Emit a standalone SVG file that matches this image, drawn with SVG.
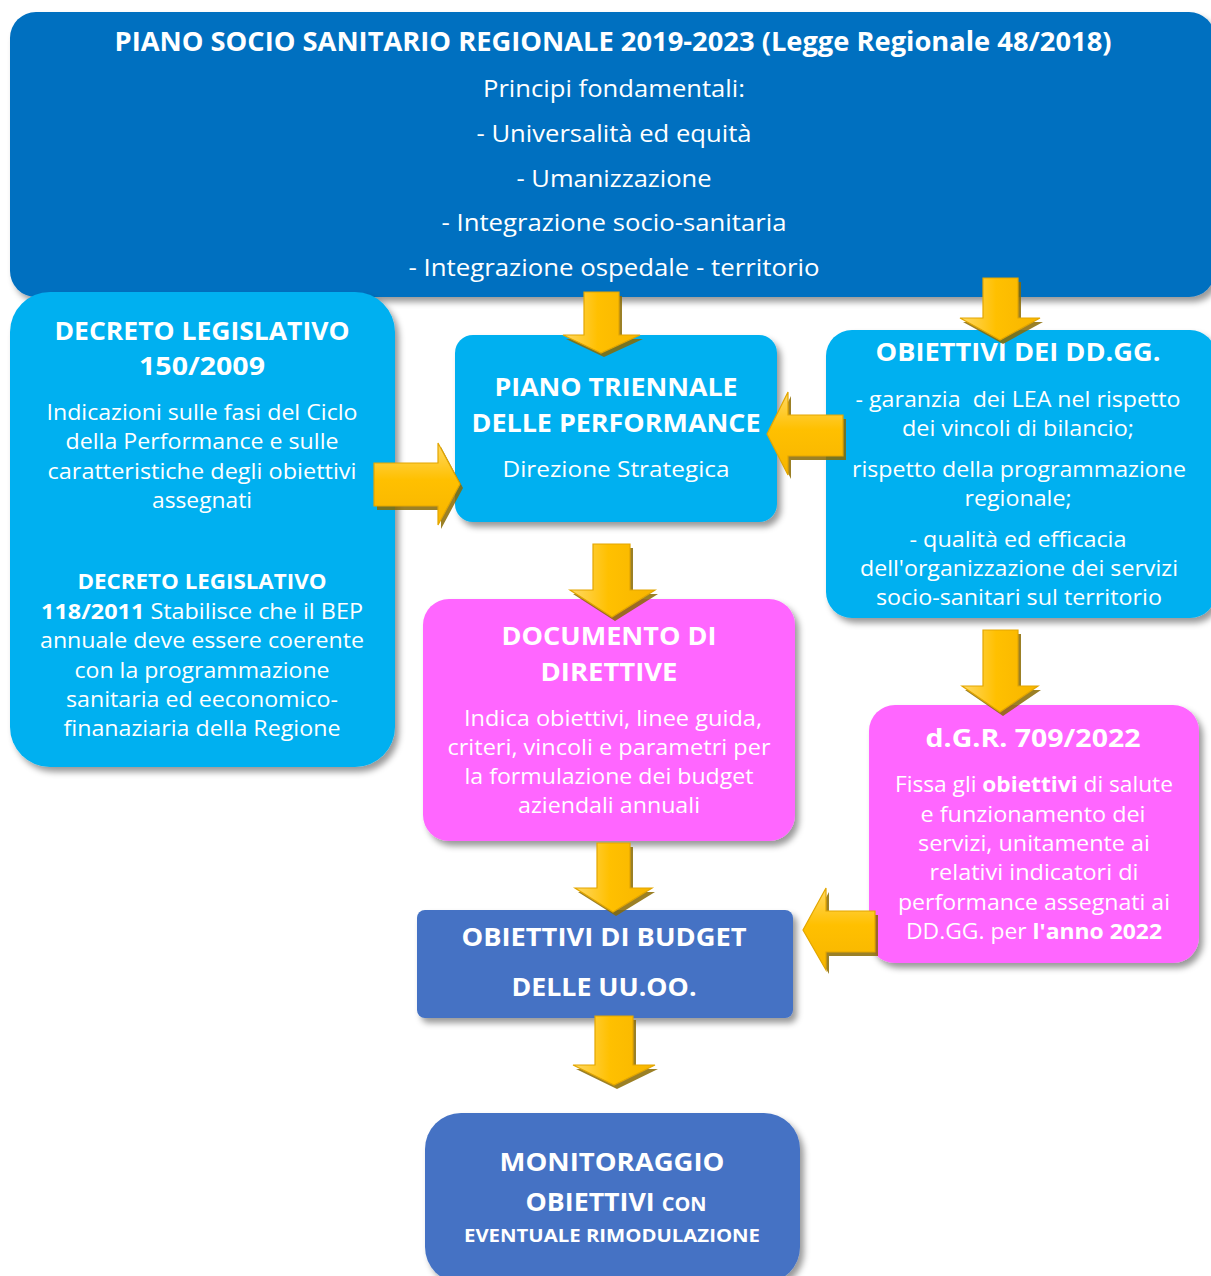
<svg xmlns="http://www.w3.org/2000/svg" xmlns:xlink="http://www.w3.org/1999/xlink" width="1211" height="1276" viewBox="0 0 1211 1276">
<defs>
<style>
text{font-family:"Open Sans","Noto Sans","Liberation Sans",sans-serif;fill:#fff;text-anchor:middle}
.h{font-weight:700;font-size:25.5px}
.b{font-size:22px}
.t{font-size:24.5px}
.bx{filter:url(#sh)}
.arr{stroke:#E3A600;stroke-width:1.2}
.dn{fill:url(#gh)}
.rt{fill:url(#gv)}
.ash{fill:#8A6A00;opacity:.85;stroke:none}
</style>
<filter id="sh" x="-10%" y="-10%" width="125%" height="125%">
<feDropShadow dx="4" dy="5" stdDeviation="3" flood-color="#000" flood-opacity="0.4"/>
</filter>
<linearGradient id="gh" x1="0" y1="0" x2="1" y2="0">
<stop offset="0" stop-color="#FFD966"/>
<stop offset="0.45" stop-color="#FFC000"/>
<stop offset="1" stop-color="#F7B500"/>
</linearGradient>
<linearGradient id="gv" x1="0" y1="0" x2="0" y2="1">
<stop offset="0" stop-color="#FFD966"/>
<stop offset="0.45" stop-color="#FFC000"/>
<stop offset="1" stop-color="#F7B500"/>
</linearGradient>
</defs>
<rect width="1211" height="1276" fill="#fff"/>

<g id="piano-socio-sanitario">
<rect class="bx" x="10" y="12" width="1205" height="285" rx="26" fill="#0070C0"/>
<text x="613" y="51" font-size="26.5" font-weight="700" textLength="997" lengthAdjust="spacingAndGlyphs">PIANO SOCIO SANITARIO REGIONALE 2019-2023 (Legge Regionale 48/2018)</text>
<text class="t" x="614" y="97" textLength="262" lengthAdjust="spacingAndGlyphs">Principi fondamentali:</text>
<text class="t" x="614" y="142" textLength="275" lengthAdjust="spacingAndGlyphs">- Universalità ed equità</text>
<text class="t" x="614" y="187" textLength="195" lengthAdjust="spacingAndGlyphs">- Umanizzazione</text>
<text class="t" x="614" y="231" textLength="345" lengthAdjust="spacingAndGlyphs">- Integrazione socio-sanitaria</text>
<text class="t" x="614" y="276" textLength="411" lengthAdjust="spacingAndGlyphs">- Integrazione ospedale - territorio</text>
</g>

<g id="decreto-legislativo">
<rect class="bx" x="10" y="292" width="385" height="475" rx="40" fill="#00B0F0"/>
<text class="h" x="202" y="340" textLength="295" lengthAdjust="spacingAndGlyphs">DECRETO LEGISLATIVO</text>
<text class="h" x="202" y="375" textLength="126" lengthAdjust="spacingAndGlyphs">150/2009</text>
<text class="b" x="202" y="420" textLength="311" lengthAdjust="spacingAndGlyphs">Indicazioni sulle fasi del Ciclo</text>
<text class="b" x="202" y="449" textLength="273" lengthAdjust="spacingAndGlyphs">della Performance e sulle</text>
<text class="b" x="202" y="479" textLength="309" lengthAdjust="spacingAndGlyphs">caratteristiche degli obiettivi</text>
<text class="b" x="202" y="508" textLength="100" lengthAdjust="spacingAndGlyphs">assegnati</text>
<text x="202" y="589" font-size="22" font-weight="700" textLength="249" lengthAdjust="spacingAndGlyphs">DECRETO LEGISLATIVO</text>
<text class="b" x="202" y="619" textLength="322" lengthAdjust="spacingAndGlyphs"><tspan font-weight="700">118/2011</tspan> Stabilisce che il BEP</text>
<text class="b" x="202" y="648" textLength="324" lengthAdjust="spacingAndGlyphs">annuale deve essere coerente</text>
<text class="b" x="202" y="678" textLength="255" lengthAdjust="spacingAndGlyphs">con la programmazione</text>
<text class="b" x="202" y="707" textLength="272" lengthAdjust="spacingAndGlyphs">sanitaria ed eeconomico-</text>
<text class="b" x="202" y="736" textLength="277" lengthAdjust="spacingAndGlyphs">finanaziaria della Regione</text>
</g>

<g id="piano-triennale">
<rect class="bx" x="455" y="335" width="322" height="187" rx="18" fill="#00B0F0"/>
<text class="h" x="616" y="396" textLength="243" lengthAdjust="spacingAndGlyphs">PIANO TRIENNALE</text>
<text class="h" x="616" y="432" textLength="289" lengthAdjust="spacingAndGlyphs">DELLE PERFORMANCE</text>
<text class="b" x="616" y="477" font-size="23" textLength="227" lengthAdjust="spacingAndGlyphs">Direzione Strategica</text>
</g>

<g id="obiettivi-ddgg">
<rect class="bx" x="826" y="330" width="390" height="288" rx="26" fill="#00B0F0"/>
<text class="h" x="1018" y="361" textLength="285" lengthAdjust="spacingAndGlyphs">OBIETTIVI DEI DD.GG.</text>
<text class="b" x="1018" y="407" textLength="325" lengthAdjust="spacingAndGlyphs" xml:space="preserve">- garanzia  dei LEA nel rispetto</text>
<text class="b" x="1018" y="436" textLength="232" lengthAdjust="spacingAndGlyphs">dei vincoli di bilancio;</text>
<text class="b" x="1019" y="477" textLength="334" lengthAdjust="spacingAndGlyphs">rispetto della programmazione</text>
<text class="b" x="1018" y="506" textLength="107" lengthAdjust="spacingAndGlyphs">regionale;</text>
<text class="b" x="1018" y="547" textLength="217" lengthAdjust="spacingAndGlyphs">- qualità ed efficacia</text>
<text class="b" x="1019" y="576" textLength="318" lengthAdjust="spacingAndGlyphs">dell'organizzazione dei servizi</text>
<text class="b" x="1019" y="605" textLength="286" lengthAdjust="spacingAndGlyphs">socio-sanitari sul territorio</text>
</g>

<g id="documento-direttive">
<rect class="bx" x="423" y="599" width="372" height="242" rx="26" fill="#FF66FF"/>
<text class="h" x="609" y="645" textLength="215" lengthAdjust="spacingAndGlyphs">DOCUMENTO DI</text>
<text class="h" x="609" y="681" textLength="137" lengthAdjust="spacingAndGlyphs">DIRETTIVE</text>
<text class="b" x="613" y="726" textLength="298" lengthAdjust="spacingAndGlyphs">Indica obiettivi, linee guida,</text>
<text class="b" x="609" y="755" textLength="323" lengthAdjust="spacingAndGlyphs">criteri, vincoli e parametri per</text>
<text class="b" x="609" y="784" textLength="289" lengthAdjust="spacingAndGlyphs">la formulazione dei budget</text>
<text class="b" x="609" y="813" textLength="182" lengthAdjust="spacingAndGlyphs">aziendali annuali</text>
</g>

<g id="dgr-709-2022">
<rect class="bx" x="869" y="705" width="330" height="258" rx="26" fill="#FF66FF"/>
<text class="h" x="1033" y="747" textLength="215" lengthAdjust="spacingAndGlyphs">d.G.R. 709/2022</text>
<text class="b" x="1034" y="792" textLength="278" lengthAdjust="spacingAndGlyphs">Fissa gli <tspan font-weight="700">obiettivi</tspan> di salute</text>
<text class="b" x="1033" y="822" textLength="225" lengthAdjust="spacingAndGlyphs">e funzionamento dei</text>
<text class="b" x="1034" y="851" textLength="232" lengthAdjust="spacingAndGlyphs">servizi, unitamente ai</text>
<text class="b" x="1034" y="880" textLength="209" lengthAdjust="spacingAndGlyphs">relativi indicatori di</text>
<text class="b" x="1034" y="910" textLength="272" lengthAdjust="spacingAndGlyphs">performance assegnati ai</text>
<text class="b" x="1034" y="939" textLength="256" lengthAdjust="spacingAndGlyphs">DD.GG. per <tspan font-weight="700">l'anno 2022</tspan></text>
</g>

<g id="obiettivi-budget">
<rect class="bx" x="417" y="910" width="376" height="108" rx="8" fill="#4472C4"/>
<text class="h" x="604" y="946" textLength="285" lengthAdjust="spacingAndGlyphs">OBIETTIVI DI BUDGET</text>
<text class="h" x="604" y="996" textLength="185" lengthAdjust="spacingAndGlyphs">DELLE UU.OO.</text>
</g>

<g id="monitoraggio">
<rect class="bx" x="425" y="1113" width="375" height="170" rx="36" fill="#4472C4"/>
<text class="h" x="612" y="1171" textLength="225" lengthAdjust="spacingAndGlyphs">MONITORAGGIO</text>
<text class="h" x="616" y="1211" textLength="181" lengthAdjust="spacingAndGlyphs">OBIETTIVI <tspan font-size="19">CON</tspan></text>
<text x="612" y="1242" font-size="18.5" font-weight="700" textLength="296" lengthAdjust="spacingAndGlyphs">EVENTUALE RIMODULAZIONE</text>
</g>

<g id="connectors">
<path class="ash" transform="translate(3,4)" d="M584,292 H619 V335 H640 L601,353 L563,335 H584 Z"/>
<path id="a1" class="arr dn" d="M584,292 H619 V335 H640 L601,353 L563,335 H584 Z"/>
<path class="ash" transform="translate(3,4)" d="M983,278 H1018 V318 H1040 L1000,340 L960,318 H983 Z"/>
<path id="a2" class="arr dn" d="M983,278 H1018 V318 H1040 L1000,340 L960,318 H983 Z"/>
<path class="ash" transform="translate(3,4)" d="M374,463 H438 V443 L460,484 L438,525 V506 H374 Z"/>
<path id="a3" class="arr rt" d="M374,463 H438 V443 L460,484 L438,525 V506 H374 Z"/>
<path class="ash" transform="translate(3,4)" d="M843,415 H788 V392 L767,434 L788,475 V456 H843 Z"/>
<path id="a4" class="arr rt" d="M843,415 H788 V392 L767,434 L788,475 V456 H843 Z"/>
<path class="ash" transform="translate(3,4)" d="M593,544 H630 V590 H655 L612,617 L570,590 H593 Z"/>
<path id="a5" class="arr dn" d="M593,544 H630 V590 H655 L612,617 L570,590 H593 Z"/>
<path class="ash" transform="translate(3,4)" d="M983,630 H1018 V686 H1038 L1000,712 L962,686 H983 Z"/>
<path id="a6" class="arr dn" d="M983,630 H1018 V686 H1038 L1000,712 L962,686 H983 Z"/>
<path class="ash" transform="translate(3,4)" d="M597,843 H630 V888 H652 L613,912 L575,888 H597 Z"/>
<path id="a7" class="arr dn" d="M597,843 H630 V888 H652 L613,912 L575,888 H597 Z"/>
<path class="ash" transform="translate(3,4)" d="M875,911 H826 V888 L803,930 L826,970 V952 H875 Z"/>
<path id="a8" class="arr rt" d="M875,911 H826 V888 L803,930 L826,970 V952 H875 Z"/>
<path class="ash" transform="translate(3,4)" d="M595,1016 H633 V1065 H655 L614,1085 L573,1065 H595 Z"/>
<path id="a9" class="arr dn" d="M595,1016 H633 V1065 H655 L614,1085 L573,1065 H595 Z"/>
</g>
</svg>
